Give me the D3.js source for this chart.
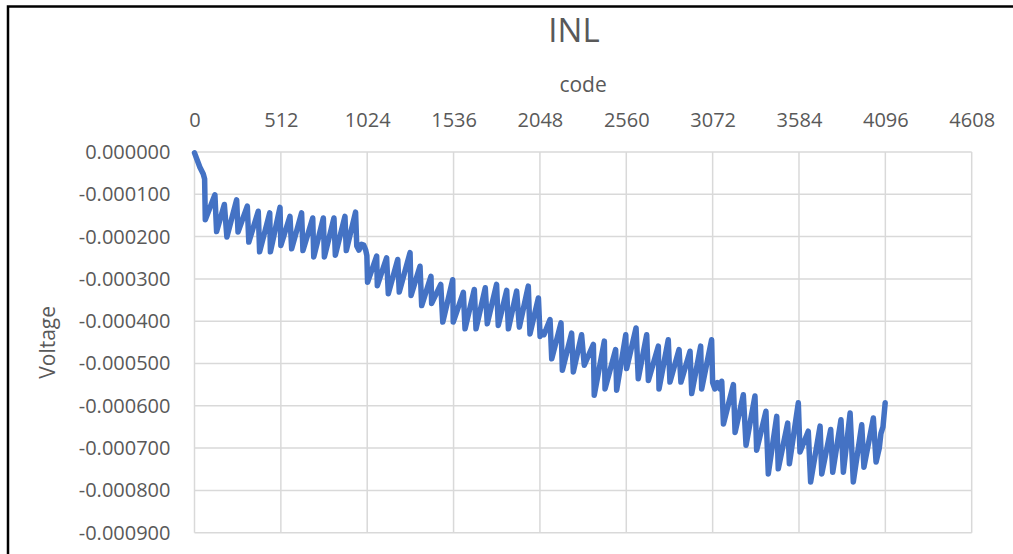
<!DOCTYPE html>
<html>
<head>
<meta charset="utf-8">
<script src="https://cdn.jsdelivr.net/npm/d3@7"></script>
<style>
  html, body { margin: 0; padding: 0; background: #fff; }
  svg { display: block; font-family: "Open Sans", "Noto Sans", sans-serif; }
</style>
</head>
<body>
<div id="chart"></div>
<script>
// Chart texts
const chartTitle = "INL";
const xTitle = "code";
const yTitle = "Voltage";

// Axis ticks
const xTicks = [0, 512, 1024, 1536, 2048, 2560, 3072, 3584, 4096, 4608];
const yTicks = [0, -0.0001, -0.0002, -0.0003, -0.0004, -0.0005, -0.0006, -0.0007, -0.0008, -0.0009];

// INL curve, peaks and valleys
const codes = [
  0, 32, 52, 60, 64, 121, 131, 177, 192, 250, 258, 313, 322, 378, 386, 446, 450, 507, 512, 566,
  576, 635, 643, 701, 707, 764, 770, 827, 835, 892, 900, 955, 962, 975, 990, 1003, 1015, 1022, 1026, 1080,
  1084, 1139, 1149, 1205, 1214, 1278, 1284, 1337, 1347, 1402, 1406, 1460, 1472, 1531, 1534, 1594, 1604, 1659, 1669, 1724,
  1736, 1791, 1801, 1851, 1861, 1910, 1926, 1979, 1989, 2039, 2049, 2062, 2072, 2108, 2118, 2173, 2181, 2236, 2246, 2295,
  2311, 2365, 2370, 2430, 2434, 2497, 2503, 2557, 2562, 2618, 2631, 2681, 2691, 2750, 2754, 2809, 2819, 2873, 2884, 2938,
  2948, 3001, 3007, 3066, 3072, 3085, 3100, 3115, 3126, 3136, 3195, 3205, 3254, 3270, 3323, 3333, 3388, 3402, 3452, 3461,
  3517, 3527, 3580, 3590, 3639, 3653, 3709, 3719, 3772, 3784, 3833, 3847, 3887, 3906, 3956, 3969, 4025, 4041, 4060, 4070,
  4082, 4095
];
const inl = [
  -0.000002, -0.000036, -0.000052, -0.000064, -0.000160, -0.000101, -0.000188, -0.000124, -0.000201, -0.000113,
  -0.000189, -0.000128, -0.000213, -0.000140, -0.000236, -0.000144, -0.000236, -0.000131, -0.000221, -0.000152,
  -0.000229, -0.000144, -0.000233, -0.000156, -0.000248, -0.000156, -0.000248, -0.000156, -0.000244, -0.000152,
  -0.000233, -0.000142, -0.000222, -0.000232, -0.000218, -0.000220, -0.000232, -0.000245, -0.000308, -0.000246,
  -0.000316, -0.000250, -0.000335, -0.000254, -0.000331, -0.000238, -0.000339, -0.000270, -0.000363, -0.000294,
  -0.000358, -0.000313, -0.000402, -0.000302, -0.000402, -0.000332, -0.000418, -0.000325, -0.000418, -0.000321,
  -0.000406, -0.000313, -0.000410, -0.000327, -0.000418, -0.000329, -0.000414, -0.000317, -0.000430, -0.000345,
  -0.000436, -0.000425, -0.000432, -0.000396, -0.000489, -0.000404, -0.000516, -0.000428, -0.000520, -0.000432,
  -0.000504, -0.000455, -0.000575, -0.000447, -0.000560, -0.000467, -0.000563, -0.000432, -0.000512, -0.000416,
  -0.000536, -0.000432, -0.000540, -0.000459, -0.000560, -0.000444, -0.000544, -0.000467, -0.000544, -0.000471,
  -0.000571, -0.000459, -0.000560, -0.000444, -0.000545, -0.000560, -0.000545, -0.000560, -0.000542, -0.000643,
  -0.000550, -0.000663, -0.000574, -0.000693, -0.000577, -0.000705, -0.000613, -0.000761, -0.000625, -0.000749,
  -0.000641, -0.000737, -0.000593, -0.000709, -0.000660, -0.000780, -0.000648, -0.000761, -0.000656, -0.000757,
  -0.000633, -0.000757, -0.000617, -0.000780, -0.000645, -0.000745, -0.000629, -0.000733, -0.000700, -0.000665,
  -0.000650, -0.000593
];

const width = 1013;
const height = 554;
const plot = { left: 194.5, right: 971.7, top: 152, bottom: 532.7 };

const svg = d3.select("#chart")
  .append("svg")
  .attr("width", width)
  .attr("height", height);

svg.append("rect")
  .attr("width", width)
  .attr("height", height)
  .attr("fill", "#fff");

// frame of the chart area (cropped at right and bottom)
svg.append("path")
  .attr("d", `M8,${height} V6.5 H${width}`)
  .attr("fill", "none")
  .attr("stroke", "#000")
  .attr("stroke-width", 2.5);

const x = d3.scaleLinear().domain([0, 4608]).range([plot.left, plot.right]);
const y = d3.scaleLinear().domain([-0.0009, 0]).range([plot.bottom, plot.top]);

// gridlines
svg.append("g")
  .selectAll("line")
  .data(xTicks)
  .join("line")
  .attr("x1", d => x(d)).attr("x2", d => x(d))
  .attr("y1", plot.top).attr("y2", plot.bottom)
  .attr("stroke", "#d9d9d9")
  .attr("stroke-width", 1.5);

svg.append("g")
  .selectAll("line")
  .data(yTicks)
  .join("line")
  .attr("x1", plot.left).attr("x2", plot.right)
  .attr("y1", d => y(d)).attr("y2", d => y(d))
  .attr("stroke", "#d9d9d9")
  .attr("stroke-width", 1.5);

// axes
const locale = d3.formatLocale({ decimal: ".", thousands: ",", grouping: [3], currency: ["$", ""], minus: "-" });
const fmt = locale.format(".6f");

const xAxis = svg.append("g")
  .attr("transform", `translate(0,${plot.top})`)
  .call(d3.axisTop(x).tickValues(xTicks).tickSize(0).tickPadding(25.3).tickFormat(d3.format("d")));

const yAxis = svg.append("g")
  .attr("transform", `translate(${plot.left},0)`)
  .call(d3.axisLeft(y).tickValues(yTicks).tickSize(0).tickPadding(24).tickFormat(d => fmt(d === 0 ? 0 : d)));

[xAxis, yAxis].forEach(g => {
  g.select(".domain").remove();
  g.selectAll("text")
    .attr("fill", "#595959")
    .style("font-size", "20px")
    .style("font-family", "'Open Sans', 'Noto Sans', sans-serif");
});

// series
const points = codes.map((c, i) => [c, inl[i]]);
svg.append("path")
  .datum(points)
  .attr("fill", "none")
  .attr("stroke", "#4472C4")
  .attr("stroke-width", 5.5)
  .attr("stroke-linejoin", "round")
  .attr("stroke-linecap", "round")
  .attr("d", d3.line().x(d => x(d[0])).y(d => y(d[1])));

// titles
svg.append("text")
  .attr("x", 574)
  .attr("y", 42.3)
  .attr("text-anchor", "middle")
  .attr("fill", "#595959")
  .style("font-size", "33px")
  .text(chartTitle);

svg.append("text")
  .attr("x", (plot.left + plot.right) / 2)
  .attr("y", 91.7)
  .attr("text-anchor", "middle")
  .attr("fill", "#595959")
  .style("font-size", "21px")
  .text(xTitle);

svg.append("text")
  .attr("transform", `translate(55,${(plot.top + plot.bottom) / 2}) rotate(-90)`)
  .attr("text-anchor", "middle")
  .attr("fill", "#595959")
  .style("font-size", "21px")
  .text(yTitle);
</script>
</body>
</html>
